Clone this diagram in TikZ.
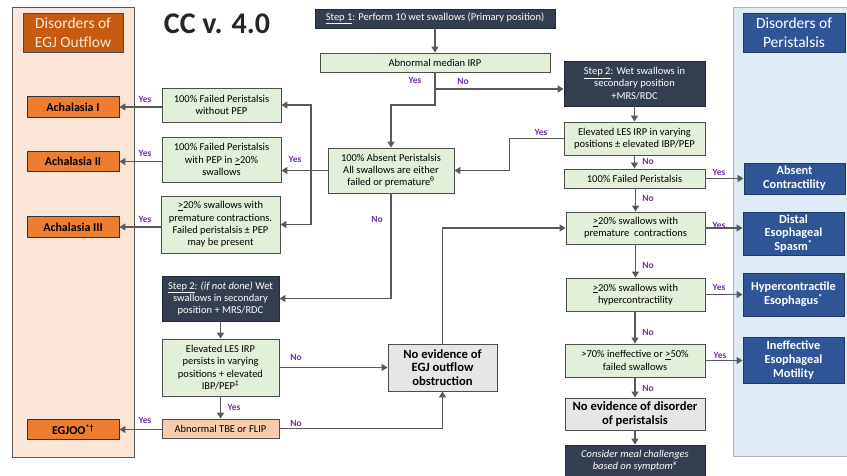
\documentclass[tikz,border=0pt]{standalone}
\usepackage{fontspec}
\setmainfont{Carlito}
\usepackage{xcolor}
\definecolor{navy}{HTML}{333F50}
\definecolor{navyline}{HTML}{222A35}
\definecolor{paleGreen}{HTML}{E2F0D9}
\definecolor{boxline}{HTML}{4D4D4D}
\definecolor{achOrange}{HTML}{ED7D31}
\definecolor{egjBrown}{HTML}{C55A11}
\definecolor{peach}{HTML}{FBE5D6}
\definecolor{tbePeach}{HTML}{F8CBAD}
\definecolor{peri}{HTML}{2F5597}
\definecolor{periline}{HTML}{1F3864}
\definecolor{paleBlue}{HTML}{DEEBF7}
\definecolor{noGray}{HTML}{E7E6E6}
\definecolor{arrowGray}{HTML}{595959}
\definecolor{answer}{HTML}{7030A0}
\usetikzlibrary{arrows.meta}
\usetikzlibrary{positioning}
\newcommand{\fsz}[2]{\fontsize{#1}{#2}\selectfont}

\begin{document}
\begin{tikzpicture}[x=1pt, y=-1pt,
  box/.style={draw=boxline, line width=0.9pt, align=center, inner sep=1pt},
  greenbox/.style={box, fill=paleGreen, font=\fsz{10.5}{12.3}},
  stepbox/.style={box, draw=navyline, fill=navy, text=white, font=\fsz{10.5}{12.3}},
  diagbox/.style={box, fill=achOrange, draw=black!80, font=\bfseries\fsz{12}{13}, minimum width=92, minimum height=20.5},
  peribox/.style={box, fill=peri, draw=periline, text=white, font=\bfseries\fsz{12.3}{13.8}, minimum width=101},
  nobox/.style={box, fill=noGray, font=\bfseries\fsz{12.6}{13.8}},
  headbox/.style={box, font=\fsz{15.5}{19}, minimum height=39},
  flow/.style={draw=arrowGray, line width=1.8pt, -{Triangle[length=6pt,width=7pt]}},
  ans/.style={text=answer, font=\bfseries\fsz{9.5}{10}, inner sep=0pt}
]
\useasboundingbox (0,0) rectangle (847,475);

% side panels
\filldraw[fill=peach, draw=black!65, line width=0.8pt] (12,7) rectangle (134,457);
\filldraw[fill=paleBlue, draw=black!30, line width=0.8pt] (733,7) rectangle (852,456);
\node[headbox, fill=egjBrown, draw=black!70, text=peach, minimum width=100] (egjHead) at (73,32.5) {Disorders of\\EGJ Outflow};
\node[headbox, fill=peri, draw=periline, text=white, minimum width=102] (periHead) at (794,32.5) {Disorders of\\Peristalsis};
\node[font=\bfseries\fsz{30}{30}, text=black!85] (title) at (217,24) {CC v. 4.0};

% step 1
\node[stepbox, minimum width=240, minimum height=19] (step1) at (435,18.5) {\underline{Step 1}: Perform 10 wet swallows (Primary position)};
\node[greenbox, minimum width=230, minimum height=19] (irp) at (435,62.5) {Abnormal median IRP};

% middle and left column
\node[greenbox, minimum width=126, minimum height=45] (absent) at (391,170.5) {100\% Absent Peristalsis\\All swallows are either\\failed or premature\textsuperscript{θ}};
\node[greenbox, minimum width=119, minimum height=34] (fpNoPEP) at (221.5,105) {100\% Failed Peristalsis\\without PEP};
\node[greenbox, minimum width=119, minimum height=45] (fpPEP) at (221.5,159.5) {100\% Failed Peristalsis\\with PEP in \underline{>}20\%\\swallows};
\node[greenbox, minimum width=119, minimum height=57] (premL) at (220.5,224.5) {\underline{>}20\% swallows with\\premature contractions.\\Failed peristalsis ± PEP\\may be present};
\node[stepbox, minimum width=117, minimum height=45] (step2L) at (220.5,298.5) {\underline{Step 2}: \textit{(if not done)} Wet\\swallows in secondary\\position + MRS/RDC};
\node[greenbox, minimum width=117, minimum height=57] (lesL) at (220.5,367.5) {Elevated LES IRP\\persists in varying\\positions + elevated\\IBP/PEP\textsuperscript{‡}};
\node[greenbox, fill=tbePeach, minimum width=117, minimum height=19] (tbe) at (220.5,428.5) {Abnormal TBE or FLIP};
\node[nobox, minimum width=109, minimum height=47] (noEGJ) at (442.5,367.5) {No evidence of\\EGJ outflow\\obstruction};

% outflow diagnoses
\node[diagbox] (achI) at (73,107) {Achalasia I};
\node[diagbox] (achII) at (73,161.5) {Achalasia II};
\node[diagbox] (achIII) at (73,227) {Achalasia III};
\node[diagbox] (egjoo) at (73,429.5) {EGJOO\textsuperscript{*†}};

% right column
\node[stepbox, minimum width=141, minimum height=45] (step2R) at (634.5,83.5) {\underline{Step 2}: Wet swallows in\\secondary position\\+MRS/RDC};
\node[greenbox, minimum width=141, minimum height=33] (lesR) at (634.5,138.5) {Elevated LES IRP in varying\\positions ± elevated IBP/PEP};
\node[greenbox, minimum width=141, minimum height=19] (fp100) at (634.5,178.5) {100\% Failed Peristalsis};
\node[greenbox, minimum width=139, minimum height=32] (premR) at (635.5,228) {\underline{>}20\% swallows with\\premature\ \ contractions};
\node[greenbox, minimum width=139, minimum height=33] (hyper) at (635.5,294.5) {\underline{>}20\% swallows with\\hypercontractility};
\node[greenbox, minimum width=140, minimum height=33] (ineff) at (635,360.5) {>70\% ineffective or \underline{>}50\%\\failed swallows};
\node[nobox, minimum width=140, minimum height=32] (noPer) at (635,414) {No evidence of disorder\\of peristalsis};
\node[stepbox, font=\itshape\fsz{10.5}{12.3}, minimum width=140, minimum height=32] (meal) at (635,461) {Consider meal challenges\\based on symptom\textsuperscript{¥}};

% peristalsis diagnoses
\node[peribox, minimum height=31] (absC) at (794.5,178.5) {Absent\\Contractility};
\node[peribox, minimum height=43] (des) at (793.5,233.5) {Distal\\Esophageal\\Spasm\textsuperscript{*}};
\node[peribox, minimum height=43] (hyperE) at (793.5,294.5) {Hypercontractile\\Esophagus\textsuperscript{*}};
\node[peribox, minimum height=46] (iem) at (793.5,360) {Ineffective\\Esophageal\\Motility};

% step 1 branch
\coordinate (irpSplit) at (435,89);
\draw[flow] (step1) -- (irp);
\draw[flow] (irp.south) -- (irpSplit) -- (irpSplit -| step2R.west);
\draw[flow] (irpSplit) -- (435,105) -| (absent.north);
\node[ans] (irpYes) at (415,80) {Yes};
\node[ans] (irpNo) at (463,81) {No};

% absent peristalsis bus
\coordinate (absBus) at (311,170.5);
\draw[flow] (absent.west) -- (absent.west -| fpPEP.east);
\draw[flow] (absBus) |- (fpNoPEP.east);
\draw[flow] (absBus) |- (premL.east);
\node[ans] (absYes) at (295,159) {Yes};
\draw[flow] (absent.south) |- (step2L.east);
\node[ans] (absNo) at (377,219) {No};

% to achalasia subtypes
\draw[flow] (fpNoPEP.west |- achI.east) -- (achI.east);
\draw[flow] (fpPEP.west |- achII.east) -- (achII.east);
\draw[flow] (premL.west |- achIII.east) -- (achIII.east);
\node[ans] (achIYes) at (145,99) {Yes};
\node[ans] (achIIYes) at (145,153) {Yes};
\node[ans] (achIIIYes) at (145,219) {Yes};

% secondary position, left
\draw[flow] (step2L) -- (lesL);
\draw[flow] (lesL) -- (tbe);
\node[ans] (lesLYes) at (234,407) {Yes};
\draw[flow] (lesL) -- (noEGJ);
\node[ans] (lesLNo) at (296,357) {No};
\draw[flow] (tbe.east) -| (noEGJ.south);
\node[ans] (tbeNo) at (296,423) {No};
\draw[flow] (tbe.west |- egjoo.east) -- (egjoo.east);
\node[ans] (tbeYes) at (145,420) {Yes};
\draw[flow] (noEGJ.north) |- (premR.west);

% right column
\draw[flow] (step2R) -- (lesR);
\draw[flow] (lesR.west) -- ++(-54,0) |- (absent.east);
\node[ans] (lesRYes) at (541,132) {Yes};
\draw[flow] (lesR) -- (fp100);
\draw[flow] (fp100.south -| premR.north) -- (premR.north);
\draw[flow] (premR) -- (hyper);
\draw[flow] (hyper.south -| ineff.north) -- (ineff.north);
\draw[flow] (ineff) -- (noPer);
\draw[flow] (noPer) -- (meal);
\node[ans] (noA) at (648,161) {No};
\node[ans] (noB) at (648,198) {No};
\node[ans] (noC) at (648,265) {No};
\node[ans] (noD) at (648,332) {No};
\node[ans] (noE) at (648,388) {No};
\draw[flow] (fp100) -- (absC.west |- fp100.east);
\draw[flow] (premR) -- (des.west |- premR.east);
\draw[flow] (hyper) -- (hyperE);
\draw[flow] (ineff) -- (iem.west |- ineff.east);
\node[ans] (yesA) at (719,172) {Yes};
\node[ans] (yesB) at (719,225) {Yes};
\node[ans] (yesC) at (719,287) {Yes};
\node[ans] (yesD) at (720,355) {Yes};
\end{tikzpicture}
\end{document}
